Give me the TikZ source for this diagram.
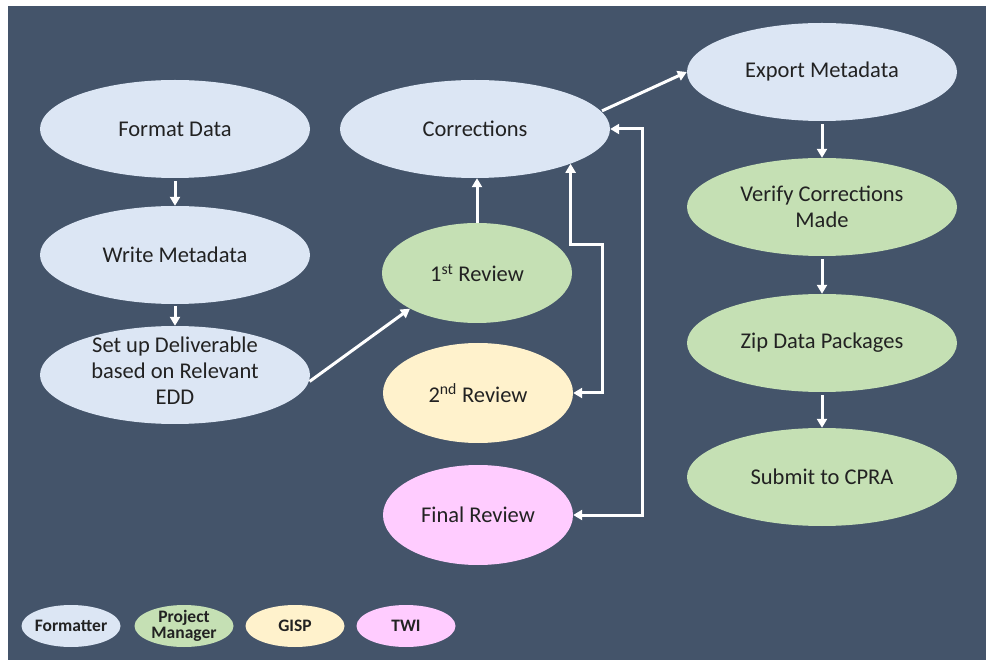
\documentclass[tikz,border=0pt]{standalone}
\usepackage{fontspec}
\setmainfont{Carlito}
\usetikzlibrary{shapes.geometric,arrows.meta}
\definecolor{bg}{HTML}{44546A}
\definecolor{cblue}{HTML}{DCE6F4}
\definecolor{cgreen}{HTML}{C5E0B4}
\definecolor{cyellow}{HTML}{FFF2CC}
\definecolor{cpink}{HTML}{FFCCFF}
\definecolor{txt}{HTML}{222222}
\begin{document}
\begin{tikzpicture}[x=1pt,y=-1pt,
  lbl/.style={text=txt, align=center, inner sep=0pt, font=\fontsize{22.5}{26}\selectfont},
  leglbl/.style={text=txt, align=center, inner sep=0pt, font=\fontsize{17.5}{15.5}\selectfont\bfseries},
  oval/.style={ellipse, inner sep=0pt, draw=none},
  big/.style={oval, minimum width=270pt, minimum height=98pt},
  mid/.style={oval, minimum width=190pt, minimum height=100pt},
  leg/.style={oval, minimum width=99pt, minimum height=42pt},
  conn/.style={draw=white, line width=3pt, -{Triangle[length=9pt,width=10pt]}},
  biconn/.style={draw=white, line width=3pt, {Triangle[length=9pt,width=10pt]}-{Triangle[length=9pt,width=10pt]}},
]
\useasboundingbox (0,0) rectangle (986,660);
\fill[white] (0,0) rectangle (986,660);
\fill[bg] (8,6) rectangle (986,660);

% left column
\node[big, fill=cblue, label={[lbl]center:Format Data}] (fd) at (175,129) {};
\node[big, fill=cblue, label={[lbl]center:Write Metadata}] (wm) at (175,255) {};
\node[big, fill=cblue, label={[lbl, yshift=4pt]center:Set up Deliverable\\based on Relevant\\EDD}] (su) at (175,375) {};

% middle column
\node[big, fill=cblue, label={[lbl]center:Corrections}] (co) at (475,129) {};
\node[mid, fill=cgreen, label={[lbl]center:1\textsuperscript{st} Review}] (r1) at (477,273) {};
\node[mid, fill=cyellow, label={[lbl]center:2\textsuperscript{nd} Review}] (r2) at (478,393) {};
\node[mid, fill=cpink, label={[lbl]center:Final Review}] (r3) at (478,515) {};

% right column
\node[big, fill=cblue, label={[lbl]center:Export Metadata}] (ex) at (822,72) {};
\node[big, fill=cgreen, label={[lbl]center:Verify Corrections\\Made}] (vc) at (822,207) {};
\node[big, fill=cgreen, label={[lbl]center:Zip Data Packages}] (zp) at (822,343) {};
\node[big, fill=cgreen, label={[lbl]center:Submit to CPRA}] (sb) at (822,477) {};

% legend
\node[leg, fill=cblue, label={[leglbl]center:Formatter}] (l1) at (71,626) {};
\node[leg, fill=cgreen, label={[leglbl]center:Project\\Manager}] (l2) at (184,626) {};
\node[leg, fill=cyellow, label={[leglbl]center:GISP}] (l3) at (295,626) {};
\node[leg, fill=cpink, label={[leglbl]center:TWI}] (l4) at (406,626) {};

% connectors
\draw[conn, shorten <=3pt] (fd.south) -- (wm.north);
\draw[conn, shorten <=2pt] (wm.south) -- (su.north);
\draw[conn, shorten <=1pt] (su.-3) -- (r1.-152);
\draw[conn] (r1.north) -- (co.south -| r1.north);
\draw[conn, shorten <=1pt] (co.8) -- (ex.west);
\draw[conn, shorten <=3pt] (ex.south) -- (vc.north);
\draw[conn, shorten <=3pt] (vc.south) -- (zp.north);
\draw[conn, shorten <=3pt] (zp.south) -- (sb.north);

\coordinate (k2) at (602,245);
\coordinate (k3) at (642,300);
\draw[biconn] (co.-20) |- (k2) |- (r2.east);
\draw[biconn] (co.east) -| (k3) |- (r3.east);
\end{tikzpicture}
\end{document}
